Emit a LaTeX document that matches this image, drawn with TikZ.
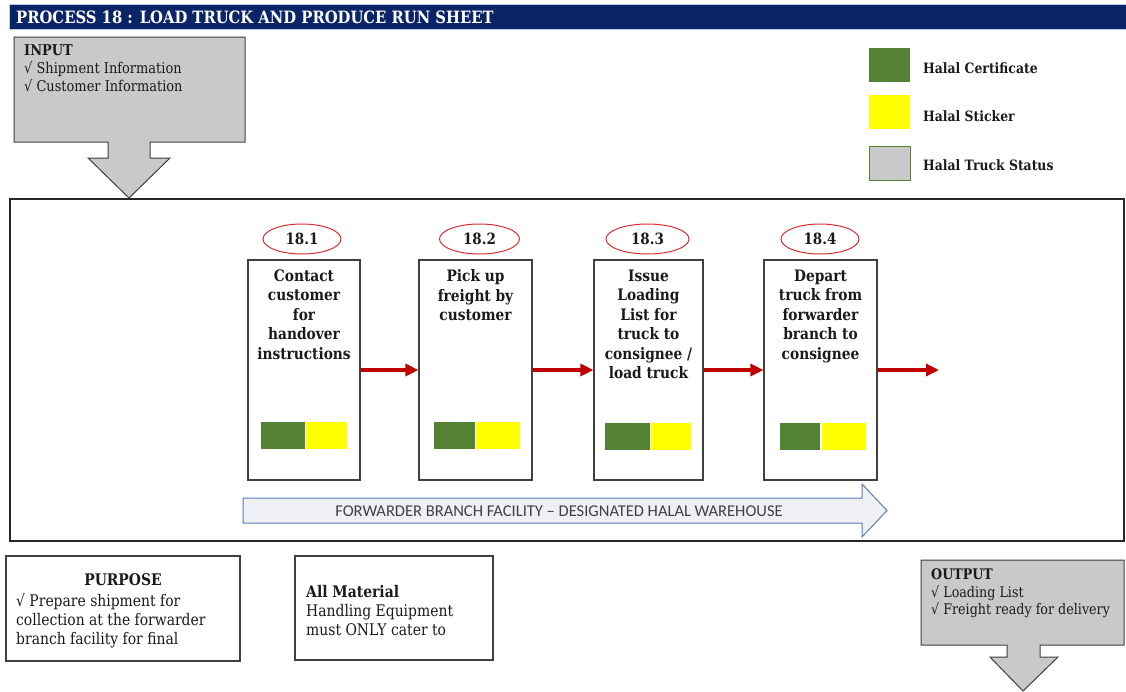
\documentclass[tikz,border=0pt]{standalone}
\usepackage{fontspec}
\setmainfont{DejaVu Serif}[FakeStretch=0.87]
\newfontfamily\calib{Carlito}
\usetikzlibrary{shapes.geometric,arrows.meta}
\definecolor{navy}{HTML}{0A2468}
\definecolor{hgreen}{HTML}{548235}
\definecolor{hyellow}{HTML}{FFFF00}
\definecolor{hgray}{HTML}{C9C9C9}
\definecolor{boxline}{HTML}{404040}
\definecolor{redarrow}{HTML}{C00000}
\definecolor{ellred}{HTML}{D83030}
\definecolor{bigfill}{HTML}{EEF0F4}
\definecolor{bigline}{HTML}{5A7FB5}
\definecolor{txt}{HTML}{1A1A1A}
\tikzset{
  stepbox/.style={draw=boxline, line width=1.1pt, minimum width=112pt, minimum height=220pt, inner sep=0pt},
  steptext/.style={anchor=north, align=center, inner sep=0pt, text=txt, font=\bfseries\fontsize{15.8}{19.5}\selectfont},
  numell/.style={ellipse, draw=ellred, line width=1pt, minimum width=78pt, minimum height=30pt, inner sep=0pt, font=\bfseries\fontsize{15.5}{16}\selectfont, text=txt},
  flow/.style={draw=redarrow, line width=3.2pt, -{Triangle[length=13pt,width=12pt]}},
  gchip/.style={fill=hgreen, draw=none},
  ychip/.style={fill=hyellow, draw=none},
  legsq/.style={minimum width=41pt, minimum height=34pt, inner sep=0pt},
  legtxt/.style={anchor=west, inner sep=0pt, font=\bfseries\fontsize{14.25}{15}\selectfont, text=txt},
  callout/.style={fill=hgray, draw=boxline, line width=1pt},
  plainbox/.style={draw=boxline, line width=1.1pt},
}
\begin{document}
\begin{tikzpicture}[x=1pt,y=-1pt]
\useasboundingbox (0,0) rectangle (1126,691);
\fill[white] (0,0) rectangle (1126,691);
% title
\draw[fill=navy, draw=bigline!40] (9,4) rectangle (1126,29);
\node[anchor=west, inner sep=0pt, text=white, font=\bfseries\fontsize{17}{18}\selectfont] (title) at (16,17) {PROCESS 18 : LOAD TRUCK AND PRODUCE RUN SHEET};
% input callout
\draw[callout] (14,37) -- (245,37) -- (245,142) -- (150,142) -- (150,158) -- (170,158) -- (129,198) -- (88,158) -- (108,158) -- (108,142) -- (14,142) -- cycle;
\node[anchor=north west, align=left, inner sep=0pt, text=txt, font=\fontsize{14.9}{18}\selectfont] (input) at (24,44.5) {\textbf{INPUT}\\√ Shipment Information\\√ Customer Information};
% main frame
\draw[line width=1.2pt, draw=black!85] (10,199) rectangle (1124,541);
% legend
\node[legsq, fill=hgreen] (lg1) at (889.5,65) {};
\node[legsq, fill=hyellow] (lg2) at (889.5,111.5) {};
\node[legsq, fill=hgray, draw=hgreen, line width=0.8pt] (lg3) at (889.5,163.5) {};
\node[legtxt] (lt1) at (923,68) {Halal Certificate};
\node[legtxt] (lt2) at (923,116) {Halal Sticker};
\node[legtxt] (lt3) at (923,165) {Halal Truck Status};
% step boxes
\node[stepbox] (b1) at (304,370) {};
\node[stepbox, minimum width=113pt] (b2) at (475.5,370) {};
\node[stepbox, minimum width=109pt] (b3) at (648.5,370) {};
\node[stepbox, minimum width=113pt] (b4) at (820.5,370) {};
\node[steptext] (t1) at (304,269.5) {Contact\\customer\\for\\handover\\instructions};
\node[steptext] (t2) at (475.5,269.5) {Pick up\\freight by\\customer};
\node[steptext] (t3) at (648.5,269.5) {Issue\\Loading\\List for\\truck to\\consignee /\\load truck};
\node[steptext] (t4) at (820.5,269.5) {Depart\\truck from\\forwarder\\branch to\\consignee};
% number ellipses
\node[numell] (e1) at (302,239) {18.1};
\node[numell, minimum width=80pt] (e2) at (479.5,239) {18.2};
\node[numell, minimum width=83pt] (e3) at (647.5,239) {18.3};
\node[numell] (e4) at (820,239) {18.4};
% chips
\fill[gchip] (261,422) rectangle (305,449);
\fill[ychip] (306,422) rectangle (347,449);
\fill[gchip] (434,422) rectangle (475,449);
\fill[ychip] (476,422) rectangle (520,449);
\fill[gchip] (605,423) rectangle (650,450);
\fill[ychip] (651,423) rectangle (691,450);
\fill[gchip] (780,423) rectangle (820,450);
\fill[ychip] (822,423) rectangle (866,450);
% flow arrows
\coordinate (endpt) at (939,370);
\draw[flow] (b1.east) -- (b2.west);
\draw[flow] (b2.east) -- (b3.west);
\draw[flow] (b3.east) -- (b4.west);
\draw[flow] (b4.east) -- (endpt);
% big arrow
\draw[fill=bigfill, draw=bigline, line width=1pt] (243,498) -- (862,498) -- (862,484) -- (887,510.5) -- (862,537) -- (862,523) -- (243,523) -- cycle;
\node[inner sep=0pt, text=black!75, font=\calib\fontsize{16.5}{18}\selectfont] (fac) at (559,511) {FORWARDER BRANCH FACILITY – DESIGNATED HALAL WAREHOUSE};
% purpose
\draw[plainbox] (6,556) rectangle (240,661);
\node[inner sep=0pt, text=txt, font=\bfseries\fontsize{16}{19}\selectfont] (ph) at (123,580) {PURPOSE};
\node[anchor=north west, align=left, inner sep=0pt, text=txt, font=\fontsize{16}{19}\selectfont] (pt) at (16,593) {√ Prepare shipment for\\collection at the forwarder\\branch facility for final};
% all material
\draw[plainbox] (295,556) rectangle (493,660);
\node[anchor=north west, align=left, inner sep=0pt, text=txt, font=\fontsize{16}{19}\selectfont] (am) at (306,585) {\textbf{All Material}\\Handling Equipment\\must ONLY cater to};
% output callout
\draw[callout] (921,560) -- (1124,560) -- (1124,645) -- (1040,645) -- (1040,657) -- (1058,657) -- (1023,691) -- (990,657) -- (1007,657) -- (1007,645) -- (921,645) -- cycle;
\node[anchor=north west, align=left, inner sep=0pt, text=txt, font=\fontsize{14.6}{17.5}\selectfont] (out) at (931,568.5) {\textbf{OUTPUT}\\√ Loading List\\√ Freight ready for delivery};
\end{tikzpicture}
\end{document}
